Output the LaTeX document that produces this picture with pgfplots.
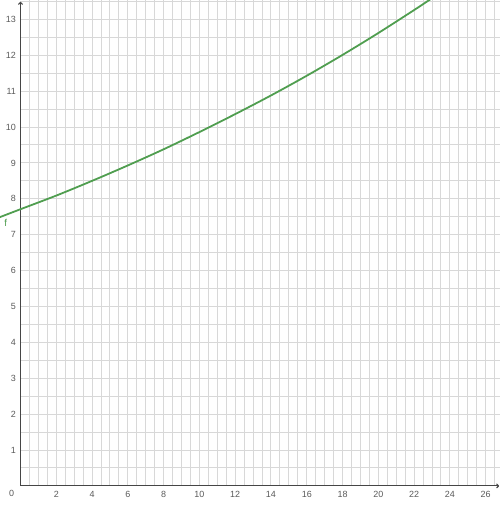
\documentclass[border=0pt]{standalone}
\usepackage{pgfplots}
\pgfplotsset{compat=1.18}
\usepackage{fontspec}
\setmainfont{Liberation Sans}
\usetikzlibrary{arrows.meta}

\definecolor{fgreen}{RGB}{80,158,80}
\definecolor{gridgray}{RGB}{216,216,216}
\definecolor{axisgray}{RGB}{70,70,70}
\definecolor{labelgray}{RGB}{90,90,90}

\begin{document}
\begin{tikzpicture}
\begin{axis}[
    scale only axis,
    width=500bp, height=506bp,
    xmin=-1.145, xmax=26.8,
    ymin=-0.56, ymax=13.54,
    axis lines=middle,
    axis line style={draw=none},
    xtick={2,4,...,26},
    ytick={1,2,...,13},
    tick style={draw=none},
    major tick length=0pt,
    /pgf/number format/assume math mode=true,
    tick label style={font=\fontsize{9}{10}\selectfont, text=labelgray},
    x tick label style={yshift=-2bp},
    y tick label style={xshift=-1bp},
]
% grid, first quadrant only, every half unit
\pgfplotsinvokeforeach{1,2,...,53}{
  \draw[gridgray, line width=1bp] (axis cs:#1/2,0) -- (axis cs:#1/2,13.54);
}
\pgfplotsinvokeforeach{1,2,...,27}{
  \draw[gridgray, line width=1bp] (axis cs:0,#1/2) -- (axis cs:26.8,#1/2);
}
% axes
\draw[axisgray, line width=1.1bp, -{To[length=3bp,width=5bp]}] (axis cs:0,0) -- (axis cs:26.75,0);
\draw[axisgray, line width=1.1bp, -{To[length=3bp,width=5bp]}] (axis cs:0,0) -- (axis cs:0,13.49);

\addplot[fgreen, line width=1.8bp, smooth] coordinates {
(-1.2,7.48)
(0,7.71)
(2,8.09)
(4,8.50)
(6,8.93)
(8,9.38)
(10,9.86)
(12,10.36)
(14,10.88)
(16,11.43)
(18,12.01)
(20,12.62)
(22,13.26)
(23,13.59)
};

\node[text=fgreen, font=\fontsize{10}{11}\selectfont] at (axis cs:-0.82,7.33) {f};
\node[text=labelgray, font=\fontsize{9}{10}\selectfont] at (axis cs:-0.49,-0.2) {0};

\coordinate (sw) at (rel axis cs:0,0);
\coordinate (ne) at (rel axis cs:1,1);
\end{axis}
\pgfresetboundingbox
\path (sw) rectangle (ne);
\end{tikzpicture}
\end{document}
